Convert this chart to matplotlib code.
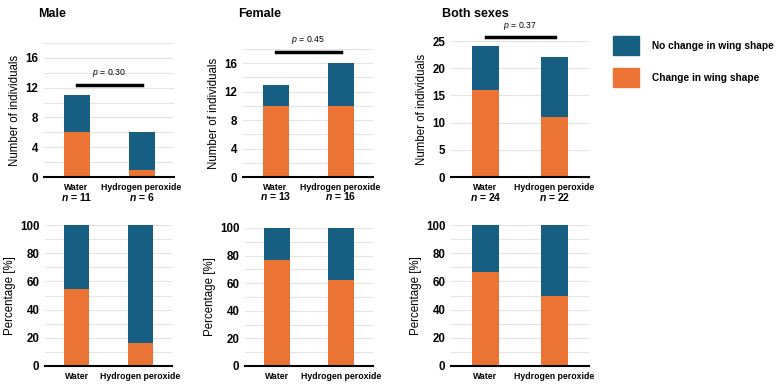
import numpy as np
import matplotlib
matplotlib.use("Agg")
from matplotlib import pyplot as plt
from matplotlib.transforms import blended_transform_factory

plt.rcParams['font.family'] = ['Liberation Sans', 'DejaVu Sans']
plt.rcParams['mathtext.fontset'] = 'custom'
plt.rcParams['mathtext.it'] = 'Liberation Sans:italic'
plt.rcParams['mathtext.bfit'] = 'Liberation Sans:italic:bold'

# Données
groupes = ["Water", "Hydrogen peroxide"]
titres = ["Male", "Female", "Both sexes"]
change = [[6, 1], [10, 10], [16, 11]]
sans_change = [[5, 5], [3, 6], [8, 11]]
p_valeurs = ["0.30", "0.45", "0.37"]
p_hauteur = [12.4, 17.6, 25.7]
ymax_haut = [18, 18, 25]
pas_haut = [4, 4, 5]
grille_haut = [2, 2, 5]

bleu = "#175f82"
orange = "#eb7434"
W, H = 783, 386

fig = plt.figure(figsize=(W / 100, H / 100), dpi=100)


def axes_px(x0, x1, ytop, ybot):
    return fig.add_axes([x0 / W, 1 - ybot / H, (x1 - x0) / W, (ybot - ytop) / H])


def style(ax, ymax, pas, grille):
    ax.set_xlim(-0.5, 1.5)
    ax.set_ylim(0, ymax)
    ax.set_yticks(np.arange(0, ymax + 0.1, pas))
    for y in np.arange(grille, ymax + 0.1, grille):
        ax.axhline(y, color="#e4e4e4", lw=0.8, zorder=0)
    for s in ["top", "right", "left"]:
        ax.spines[s].set_visible(False)
    ax.spines["bottom"].set_linewidth(1.5)
    ax.tick_params(length=0, labelsize=8.3, pad=4)
    ax.set_xticks([0, 1])
    ax.set_xticklabels(groupes, fontsize=6.3, fontweight="bold")
    for lab in ax.get_yticklabels():
        lab.set_fontweight("bold")


haut = [(44, 174, 43, 177), (243, 373, 49, 177), (451, 589, 41, 177)]
bas = [(45, 172, 225, 366), (245, 373, 228, 366), (451, 589, 225, 366)]
x = np.arange(2)

for i in range(3):
    c = np.array(change[i])
    s = np.array(sans_change[i])
    n = c + s

    # Effectifs
    ax = axes_px(*haut[i])
    style(ax, ymax_haut[i], pas_haut[i], grille_haut[i])
    ax.bar(x, c, 0.4, color=orange, zorder=2)
    ax.bar(x, s, 0.4, bottom=c, color=bleu, zorder=2)
    ax.set_ylabel("Number of individuals", fontsize=8.3, labelpad=3)
    ax.plot([0, 1], [p_hauteur[i]] * 2, color="black", lw=2.5, clip_on=False)
    ax.annotate("$p$ = " + p_valeurs[i], (0.5, p_hauteur[i]), xytext=(0, 4),
                textcoords="offset points", ha="center", va="bottom",
                fontsize=6.3, annotation_clip=False)
    tr = blended_transform_factory(ax.transData, ax.transAxes)
    for j in range(2):
        ax.text(j, -0.15, "$\\boldsymbol{n}$ = %d" % n[j], transform=tr,
                ha="center", va="center", fontsize=7.5, fontweight="bold")
    fig.text([38, 238, 442][i] / W, 1 - 14 / H, titres[i],
             fontsize=9, fontweight="bold", va="center")

    # Pourcentages
    ax = axes_px(*bas[i])
    style(ax, 100, 20, 10)
    pc = c / n * 100
    ax.bar(x, pc, 0.4, color=orange, zorder=2)
    ax.bar(x, 100 - pc, 0.4, bottom=pc, color=bleu, zorder=2)
    ax.set_ylabel("Percentage [%]", fontsize=8.3, labelpad=3)

# Légende
for k, (col, txt) in enumerate([(bleu, "No change in wing shape"), (orange, "Change in wing shape")]):
    y0 = 36 + k * 32
    fig.patches.append(plt.Rectangle((613 / W, 1 - (y0 + 19) / H), 26 / W, 19 / H,
                                     transform=fig.transFigure, color=col))
    fig.text(652 / W, 1 - (y0 + 10) / H, txt, fontsize=7.3, fontweight="bold", va="center")

fig.savefig("out.png", dpi=100)
